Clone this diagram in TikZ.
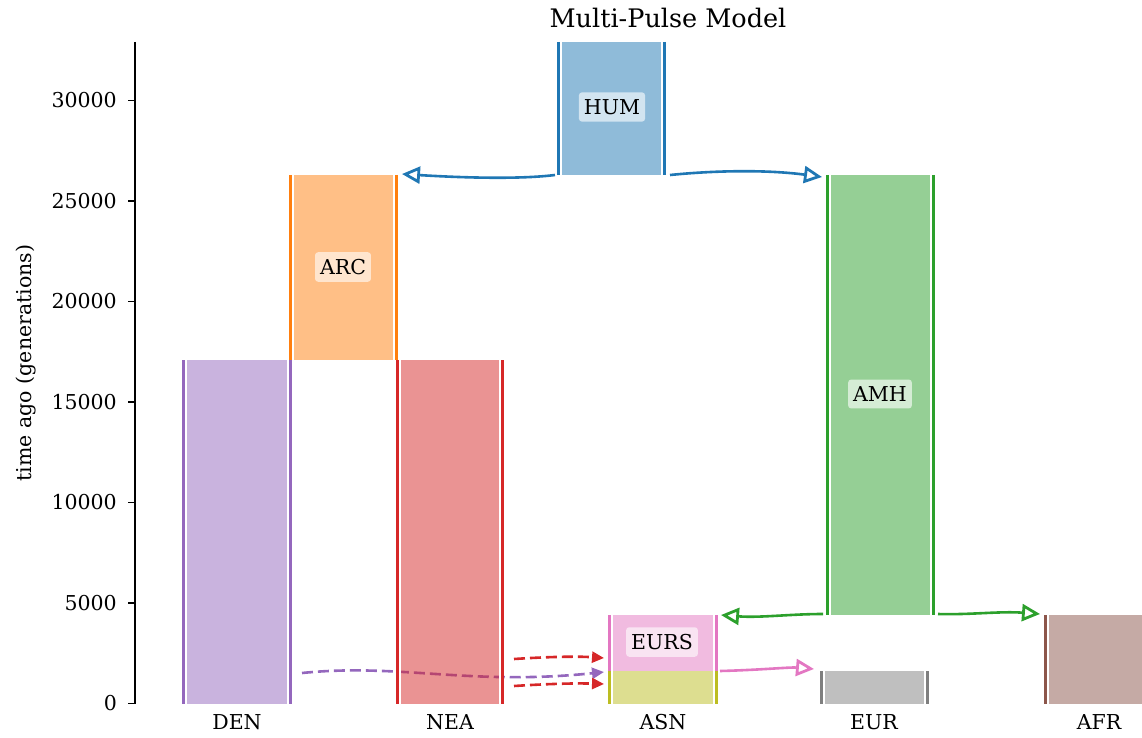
\documentclass[tikz,border=0pt]{standalone}
\usepackage{fontspec}
\setmainfont{DejaVu Serif}
\usetikzlibrary{arrows.meta}
\definecolor{tabblue}{HTML}{1F77B4}
\definecolor{taborange}{HTML}{FF7F0E}
\definecolor{tabgreen}{HTML}{2CA02C}
\definecolor{tabred}{HTML}{D62728}
\definecolor{tabpurple}{HTML}{9467BD}
\definecolor{tabbrown}{HTML}{8C564B}
\definecolor{tabpink}{HTML}{E377C2}
\definecolor{tabgray}{HTML}{7F7F7F}
\definecolor{tabolive}{HTML}{BCBD22}
\newcommand\drawdeme[6]{%
  \fill[#2, fill opacity=0.5] (#3,#5) rectangle (#4,#6);
  \draw[#2, line width=2.8pt] (#3+1.4,#5) -- (#3+1.4,#6);
  \draw[white, line width=2.2pt] (#3+3.9,#5) -- (#3+3.9,#6);
  \draw[#2, line width=2.8pt] (#4-1.4,#5) -- (#4-1.4,#6);
  \draw[white, line width=2.2pt] (#4-3.9,#5) -- (#4-3.9,#6);
  \coordinate (#1) at ({(#3+#4)/2},{(#5+#6)/2});
}
\tikzset{
  txt/.style={font=\fontsize{20.5}{24}\selectfont, inner sep=0pt},
  lbl/.style={txt, fill=white, fill opacity=0.6, text opacity=1, rounded corners=3pt, inner xsep=5pt, inner ysep=7pt},
  mig/.style={line width=2.6pt, -{Triangle[open, length=18pt, width=17pt, line width=2.8pt]}},
  pulse/.style={line width=2.6pt, dash pattern=on 11pt off 5pt, -{Triangle[length=12pt, width=11pt]}},
}
\begin{document}
\begin{tikzpicture}[x=1pt,y=-1pt]
\useasboundingbox (0,0) rectangle (1142,738);
\clip (0,0) rectangle (1142,738);

% connector end points
\coordinate (humL) at (555,175);
\coordinate (arcR) at (402,174);
\coordinate (humR) at (670,175);
\coordinate (amhL) at (822,177);
\coordinate (amhL2) at (823,614);
\coordinate (eursR) at (721,615);
\coordinate (amhR2) at (938,614);
\coordinate (afrL) at (1040,614);
\coordinate (eursR2) at (720,671);
\coordinate (eurL) at (814,669);
\coordinate (neaR1) at (514,659);
\coordinate (asnL1) at (604,658);
\coordinate (denR) at (302,673);
\coordinate (asnL2) at (604,672);
\coordinate (neaR2) at (514,686);
\coordinate (asnL3) at (604,684);

% migrations
\draw[mig, tabblue] (humL) .. controls (515,180) and (450,177) .. (arcR);
\draw[mig, tabblue] (humR) .. controls (720,170) and (770,170) .. (amhL);
\draw[mig, tabgreen] (amhL2) .. controls (790,614) and (760,618) .. (eursR);
\draw[mig, tabgreen] (amhR2) .. controls (970,615) and (1000,611) .. (afrL);
\draw[mig, tabpink] (eursR2) .. controls (760,670) and (790,667) .. (eurL);

% pulses
\draw[pulse, tabred] (neaR1) .. controls (545,657) and (575,656) .. (asnL1);
\draw[pulse, tabpurple] (denR) .. controls (400,663) and (470,686) .. (asnL2);
\draw[pulse, tabred] (neaR2) .. controls (545,684) and (575,683) .. (asnL3);

% demes
\drawdeme{hum}{tabblue}{557}{666}{42}{175}
\drawdeme{arc}{taborange}{289}{398}{175}{360}
\drawdeme{den}{tabpurple}{182}{292}{360}{703.5}
\drawdeme{nea}{tabred}{396}{504}{360}{703.5}
\drawdeme{amh}{tabgreen}{826}{935}{175}{615}
\drawdeme{eurs}{tabpink}{608}{718}{615}{671}
\drawdeme{asn}{tabolive}{608}{718}{671}{703.5}
\drawdeme{eur}{tabgray}{820}{929}{671}{703.5}
\drawdeme{afr}{tabbrown}{1044}{1153}{615}{703.5}

% deme labels
\node[lbl] (humlbl) at (612,107) {HUM};
\node[lbl] (arclbl) at (343,267) {ARC};
\node[lbl] (amhlbl) at (880,394) {AMH};
\node[lbl] (eurslbl) at (662,642) {EURS};

% axis
\draw[line width=1.6pt] (135,42) -- (135,703.5);
\foreach \v/\y in {0/703.5,5000/603,10000/502.5,15000/402,20000/301.5,25000/201,30000/100.5}{
  \draw[line width=1.6pt] (128,\y) -- (135,\y);
  \node[txt, anchor=east] (tick\v) at (117,\y) {\v};
}
\node[txt, rotate=90] (ylabel) at (26,363) {time ago (generations)};
\node[txt] (xden) at (237,722) {DEN};
\node[txt] (xnea) at (450,722) {NEA};
\node[txt] (xasn) at (663,722) {ASN};
\node[txt] (xeur) at (874,722) {EUR};
\node[txt] (xafr) at (1099,722) {AFR};
\node[font=\fontsize{25.5}{30}\selectfont, inner sep=0pt] (title) at (668,18) {Multi-Pulse Model};
\end{tikzpicture}
\end{document}
